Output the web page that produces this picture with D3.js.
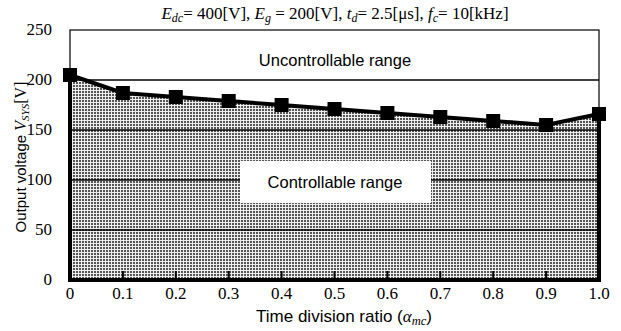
<!DOCTYPE html>
<html><head><meta charset="utf-8">
<script src="https://cdn.jsdelivr.net/npm/d3@7"></script>
<style>body{margin:0;background:#fff}</style>
</head><body>
<svg id="c" width="621" height="331"></svg>
<script>
const ratios = [0, 0.1, 0.2, 0.3, 0.4, 0.5, 0.6, 0.7, 0.8, 0.9, 1.0];
const vsys = [205, 187, 183, 179, 175, 171, 167, 163, 159, 155, 166];
const xTickLabels = ["0","0.1","0.2","0.3","0.4","0.5","0.6","0.7","0.8","0.9","1.0"];
const yTicks = [0, 50, 100, 150, 200, 250];
const gridValues = [50, 100, 150];
const limitValue = 200;

const svg = d3.select("#c");
const x = d3.scaleLinear().domain([0, 1]).range([70, 599]);
const y = d3.scaleLinear().domain([0, 250]).range([280, 30]);
const serif = "'Liberation Serif','Times New Roman',serif";
const sans = "'Liberation Sans',Arial,sans-serif";

const defs = svg.append("defs");
const pat = defs.append("pattern").attr("id","dots").attr("patternUnits","userSpaceOnUse")
  .attr("width",3).attr("height",3);
pat.append("rect").attr("width",3).attr("height",3).attr("fill","#eeeeee");
pat.append("rect").attr("x",1).attr("y",1).attr("width",2).attr("height",2).attr("fill","#555");

// plot frame (thin)
svg.append("rect").attr("x",x(0)).attr("y",y(250)).attr("width",x(1)-x(0)).attr("height",y(0)-y(250))
  .attr("fill","#fff").attr("stroke","#000").attr("stroke-width",1.2);

// dotted area
const area = d3.area().x((d,i)=>x(ratios[i])).y0(y(0)).y1(d=>y(d));
svg.append("path").datum(vsys).attr("d",area).attr("fill","url(#dots)");

// limit line at 200
svg.append("line").attr("x1",x(0)).attr("x2",x(1)).attr("y1",y(limitValue)).attr("y2",y(limitValue))
  .attr("stroke","#000").attr("stroke-width",1.5);

// gridlines
svg.selectAll(".g").data(gridValues).enter().append("line")
  .attr("x1",x(0)).attr("x2",x(1)).attr("y1",d=>y(d)).attr("y2",d=>y(d))
  .attr("stroke","#000").attr("stroke-width",1.5);

// thick boundary left/bottom/right
svg.append("path").attr("d",
  `M${x(0)},${y(vsys[0])}L${x(0)},${y(0)}L${x(1)},${y(0)}L${x(1)},${y(vsys[vsys.length-1])}`)
  .attr("fill","none").attr("stroke","#000").attr("stroke-width",4).attr("stroke-linejoin","miter");

// inward ticks
svg.selectAll(".t").data(ratios.slice(1,-1)).enter().append("line")
  .attr("x1",d=>x(d)).attr("x2",d=>x(d)).attr("y1",y(0)).attr("y2",y(0)-9)
  .attr("stroke","#000").attr("stroke-width",2);

// labels in regions
svg.append("text").attr("x",335).attr("y",66).attr("text-anchor","middle")
  .attr("font-family",sans).attr("font-size",16.5).text("Uncontrollable range");
svg.append("rect").attr("x",240).attr("y",161).attr("width",191).attr("height",42).attr("fill","#fff");
svg.append("text").attr("x",335).attr("y",188).attr("text-anchor","middle")
  .attr("font-family",sans).attr("font-size",16.5).text("Controllable range");

// data line and markers
const line = d3.line().x((d,i)=>x(ratios[i])).y(d=>y(d));
svg.append("path").datum(vsys).attr("d",line).attr("fill","none").attr("stroke","#000").attr("stroke-width",4);
svg.selectAll(".m").data(vsys).enter().append("rect")
  .attr("x",(d,i)=>x(ratios[i])-7).attr("y",d=>y(d)-7).attr("width",14).attr("height",14).attr("fill","#000");

// y tick labels
svg.selectAll(".yl").data(yTicks).enter().append("text")
  .attr("x",52).attr("y",d=>y(d)+5).attr("text-anchor","end")
  .attr("font-family",serif).attr("font-size",17).text(d=>d);

// x tick labels
svg.selectAll(".xl").data(ratios).enter().append("text")
  .attr("x",(d,i)=>x(d)).attr("y",299).attr("text-anchor","middle")
  .attr("font-family",serif).attr("font-size",17).text((d,i)=>xTickLabels[i]);

// x axis title
const xt = svg.append("text").attr("x",344).attr("y",322).attr("text-anchor","middle")
  .attr("font-family",sans).attr("font-size",17);
xt.append("tspan").text("Time division ratio (");
xt.append("tspan").attr("font-family",serif).attr("font-style","italic").text("α");
xt.append("tspan").attr("font-family",serif).attr("font-style","italic").attr("font-size",12.5).attr("dy",3).text("mc");
xt.append("tspan").attr("dy",-3).text(")");

// y axis title
const yt = svg.append("text").attr("transform","translate(26,157) rotate(-90)").attr("text-anchor","middle")
  .attr("font-family",sans).attr("font-size",15);
yt.append("tspan").text("Output voltage ");
yt.append("tspan").attr("font-family",serif).attr("font-style","italic").attr("font-size",16).text("V");
yt.append("tspan").attr("font-family",serif).attr("font-style","italic").attr("font-size",11).attr("dy",3).text("SYS");
yt.append("tspan").attr("font-family",serif).attr("font-size",16).attr("dy",-3).text("[V]");

// top title
const tt = svg.append("text").attr("x",335).attr("y",19).attr("text-anchor","middle")
  .attr("font-family",serif).attr("font-size",17);
function part(it, sub, rest){
  tt.append("tspan").attr("font-style","italic").text(it);
  tt.append("tspan").attr("font-style","italic").attr("font-size",12).attr("dy",3).text(sub);
  tt.append("tspan").attr("dy",-3).text(rest);
}
part("E","dc","= 400[V], ");
part("E","g"," = 200[V], ");
part("t","d","= 2.5[μs], ");
part("f","c","= 10[kHz]");
</script>
</body></html>
